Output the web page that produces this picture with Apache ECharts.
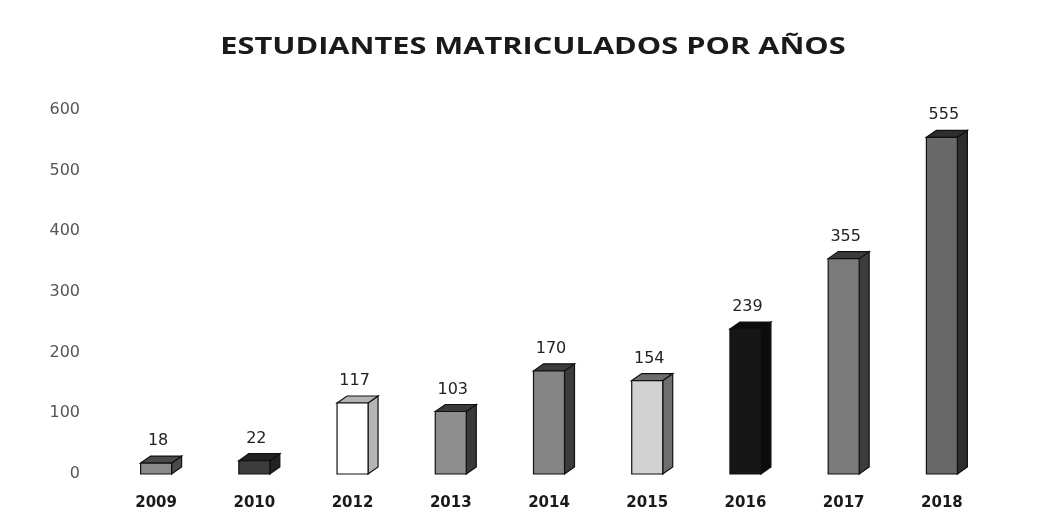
<!DOCTYPE html>
<html>
<head>
    <meta charset="utf-8">
    <script src="https://cdn.jsdelivr.net/npm/echarts@6/dist/echarts.min.js"></script>
</head>
<body style="margin:0; background:#fff">
    <div id="main" style="width:1054px; height:526px"></div>
    <script type="text/javascript">
        // data
        var years = ['2009', '2010', '2012', '2013', '2014', '2015', '2016', '2017', '2018'];
        var students = [18, 22, 117, 103, 170, 154, 239, 355, 555];

        // front / side shade of every bar (grey scan)
        var frontColors = ['#8a8a8a', '#3c3c3c', '#ffffff', '#8e8e8e', '#858585', '#d2d2d2', '#161616', '#7a7a7a', '#686868'];
        var sideColors  = ['#4a4a4a', '#222222', '#b4b4b4', '#3a3a3a', '#3c3c3c', '#6e6e6e', '#0c0c0c', '#3c3c3c', '#2e2e2e'];

        var myChart = echarts.init(document.getElementById('main'));

        var barW = 31, depthX = 10, depthY = 7;

        function renderBar(params, api) {
            var i = params.dataIndex;
            var top = api.coord([api.value(0), api.value(1)]);
            var base = api.coord([api.value(0), 0]);
            var x0 = top[0] - barW / 2, x1 = top[0] + barW / 2;
            var y0 = top[1], y1 = base[1];
            var line = {stroke: '#111', lineWidth: 1.2};
            return {
                type: 'group',
                children: [{
                    type: 'polygon',
                    shape: {points: [[x1, y1], [x1 + depthX, y1 - depthY], [x1 + depthX, y0 - depthY], [x1, y0]]},
                    style: Object.assign({fill: sideColors[i]}, line)
                }, {
                    type: 'polygon',
                    shape: {points: [[x0, y0], [x0 + depthX, y0 - depthY], [x1 + depthX, y0 - depthY], [x1, y0]]},
                    style: Object.assign({fill: sideColors[i]}, line)
                }, {
                    type: 'rect',
                    shape: {x: x0, y: y0, width: barW, height: y1 - y0},
                    style: Object.assign({fill: frontColors[i]}, line)
                }, {
                    type: 'text',
                    x: top[0] + 2,
                    y: y0 - 22,
                    style: {
                        text: String(api.value(1)),
                        align: 'center',
                        verticalAlign: 'middle',
                        fontFamily: 'DejaVu Sans',
                        fontSize: 16,
                        fill: '#222'
                    }
                }]
            };
        }

        var option = {
            animation: false,
            backgroundColor: '#fff',
            // title drawn as graphic text so it can be stretched like the scan
            graphic: [{
                type: 'text',
                x: 533,
                y: 47,
                scaleX: 1.28,
                style: {
                    text: 'ESTUDIANTES MATRICULADOS POR AÑOS',
                    align: 'center',
                    verticalAlign: 'middle',
                    fontFamily: 'Open Sans',
                    fontWeight: 'bold',
                    fontSize: 24,
                    fill: '#1a1a1a'
                }
            }],
            grid: {
                left: 107,
                right: 63,
                top: 110,
                bottom: 52
            },
            xAxis: {
                type: 'category',
                data: years,
                axisLine: {show: false},
                axisTick: {show: false},
                axisLabel: {
                    margin: 22,
                    fontFamily: 'DejaVu Sans',
                    fontWeight: 'bold',
                    fontSize: 15,
                    color: '#1a1a1a'
                }
            },
            yAxis: {
                type: 'value',
                min: 0,
                max: 600,
                interval: 100,
                axisLine: {show: false},
                axisTick: {show: false},
                splitLine: {show: false},
                axisLabel: {
                    margin: 27,
                    padding: [8, 0, 0, 0],
                    fontFamily: 'DejaVu Sans',
                    fontSize: 16,
                    color: '#555'
                }
            },
            series: [{
                type: 'custom',
                renderItem: renderBar,
                encode: {x: 0, y: 1},
                data: years.map(function (y, i) { return [i, students[i]]; })
            }]
        };
        myChart.setOption(option);
    </script>
</body>
</html>
